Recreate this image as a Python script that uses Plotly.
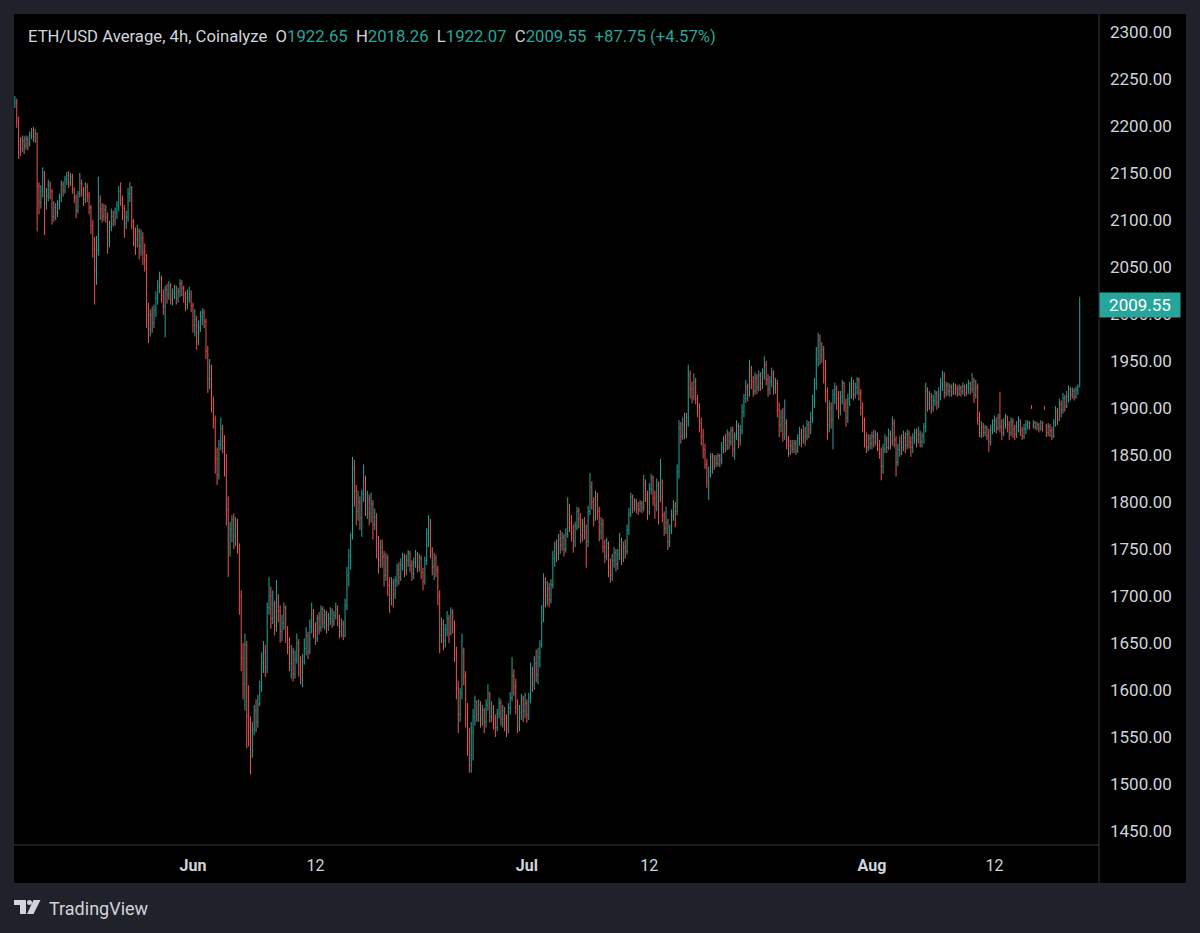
import pandas as pd
import plotly.graph_objects as go

# ETH/USD Average, 4h bars, 16 May -> 19 Aug (one row per day, 6 bars)
first_open = 2224
closes = [
    2226, 2205, 2180, 2176, 2184, 2179,  # May 16
    2186, 2181, 2190, 2194, 2188, 2192,
    2136, 2119, 2131, 2150, 2118, 2126,
    2137, 2130, 2104, 2113, 2108, 2116,
    2124, 2138, 2131, 2143, 2147, 2140,  # May 20
    2146, 2132, 2124, 2110, 2128, 2139,
    2131, 2122, 2135, 2126, 2113, 2094,
    2070, 2046, 2068, 2120, 2112, 2104,
    2111, 2103, 2077, 2093, 2104, 2100,
    2108, 2115, 2130, 2121, 2112, 2096,  # May 25
    2103, 2128, 2134, 2098, 2084, 2079,
    2088, 2072, 2081, 2066, 2058, 2006,
    1984, 1999, 1990, 2004, 2017, 2029,
    2038, 2020, 2008, 2026, 2021, 2030,
    2015, 2022, 2029, 2017, 2024, 2032,  # May 30
    2027, 2019, 2010, 2018, 2021, 2009,
    1988, 1994, 1971, 1986, 1997, 2001,  # Jun 1
    1992, 1960, 1931, 1944, 1904, 1888,
    1846, 1829, 1861, 1878, 1866, 1838,
    1792, 1752, 1771, 1781, 1764, 1775,
    1752, 1700, 1634, 1606, 1648, 1572,  # Jun 5
    1560, 1536, 1558, 1578, 1566, 1585,
    1604, 1628, 1640, 1624, 1688, 1700,
    1676, 1690, 1668, 1698, 1684, 1662,
    1671, 1688, 1660, 1645, 1628, 1640,
    1617, 1632, 1650, 1626, 1612, 1630,  # Jun 10
    1644, 1658, 1641, 1668, 1681, 1663,
    1655, 1676, 1666, 1686, 1672, 1680,
    1670, 1676, 1684, 1673, 1679, 1686,
    1675, 1662, 1670, 1658, 1690, 1722,
    1742, 1764, 1836, 1812, 1790, 1800,  # Jun 15
    1783, 1808, 1822, 1796, 1803, 1788,
    1798, 1776, 1784, 1756, 1738, 1752,
    1742, 1722, 1740, 1711, 1696, 1714,
    1702, 1716, 1728, 1720, 1733, 1741,
    1728, 1738, 1745, 1732, 1724, 1736,  # Jun 20
    1744, 1731, 1740, 1725, 1716, 1738,
    1766, 1778, 1748, 1731, 1740, 1728,
    1700, 1658, 1670, 1652, 1664, 1676,
    1660, 1682, 1668, 1640, 1602, 1574,
    1596, 1640, 1615, 1573, 1548, 1520,  # Jun 25
    1556, 1572, 1588, 1574, 1584, 1570,
    1578, 1566, 1584, 1596, 1572, 1580,
    1568, 1560, 1575, 1586, 1569, 1578,
    1570, 1558, 1581, 1592, 1615, 1604,
    1582, 1560, 1576, 1590, 1578, 1586,  # Jun 30
    1574, 1592, 1618, 1606, 1628, 1616,  # Jul 1
    1635, 1648, 1682, 1714, 1700, 1708,
    1696, 1712, 1740, 1752, 1745, 1760,
    1754, 1762, 1750, 1766, 1786, 1778,
    1768, 1758, 1774, 1790, 1782, 1764,  # Jul 5
    1776, 1768, 1758, 1790, 1816, 1800,
    1784, 1806, 1790, 1768, 1776, 1752,
    1742, 1756, 1730, 1722, 1738, 1746,
    1734, 1744, 1758, 1740, 1752, 1748,
    1770, 1788, 1806, 1794, 1800, 1796,  # Jul 10
    1792, 1798, 1794, 1820, 1808, 1790,
    1814, 1826, 1804, 1796, 1818, 1806,
    1820, 1786, 1772, 1778, 1758, 1770,
    1785, 1796, 1790, 1832, 1878, 1870,
    1882, 1872, 1890, 1936, 1920, 1912,  # Jul 15
    1928, 1910, 1898, 1884, 1870, 1856,
    1840, 1822, 1832, 1848, 1838, 1846,
    1841, 1849, 1844, 1858, 1866, 1860,
    1872, 1864, 1876, 1856, 1870, 1880,
    1866, 1876, 1896, 1910, 1922, 1914,  # Jul 20
    1940, 1928, 1918, 1932, 1922, 1934,
    1926, 1938, 1946, 1930, 1920, 1928,
    1936, 1922, 1926, 1898, 1882, 1890,
    1872, 1884, 1866, 1852, 1860, 1856,
    1862, 1854, 1868, 1874, 1868, 1876,  # Jul 25
    1870, 1882, 1878, 1890, 1906, 1926,
    1952, 1972, 1956, 1962, 1934, 1918,
    1882, 1900, 1888, 1914, 1920, 1910,
    1898, 1912, 1926, 1904, 1890, 1910,
    1918, 1926, 1914, 1922, 1930, 1916,  # Jul 30
    1900, 1884, 1866, 1858, 1868, 1862,
    1870, 1864, 1872, 1860, 1852, 1838,  # Aug 1
    1856, 1866, 1858, 1872, 1864, 1884,
    1866, 1842, 1856, 1864, 1858, 1868,
    1860, 1872, 1864, 1858, 1868, 1874,
    1866, 1872, 1864, 1870, 1880, 1918,  # Aug 5
    1904, 1912, 1900, 1908, 1916, 1906,
    1914, 1926, 1934, 1916, 1924, 1918,
    1922, 1917, 1924, 1920, 1915, 1921,
    1918, 1923, 1916, 1922, 1926, 1920,
    1928, 1914, 1922, 1890, 1874, 1880,  # Aug 10
    1874, 1879, 1870, 1864, 1876, 1882,
    1886, 1878, 1890, 1880, 1874, 1884,
    1890, 1882, 1874, 1886, 1878, 1872,
    1880, 1886, 1876, 1870, 1878, 1882,
    1884, 1880, 1900, 1884, 1879, 1882,  # Aug 15
    1878, 1884, 1880, 1899, 1874, 1880,
    1876, 1870, 1884, 1896, 1888, 1904,
    1898, 1910, 1902, 1912, 1920, 1914,
    1918, 1912, 1919, 1921.80, 2009.55,  # Aug 19
]
highs = [
    2232, 2229, 2210, 2188, 2190, 2189,
    2190, 2189, 2194, 2198, 2199, 2197,
    2193, 2140, 2137, 2156, 2152, 2134,
    2143, 2141, 2133, 2120, 2118, 2121,
    2128, 2142, 2141, 2147, 2151, 2152,
    2150, 2149, 2135, 2127, 2131, 2150,
    2143, 2135, 2140, 2139, 2130, 2116,
    2100, 2082, 2083, 2146, 2126, 2118,
    2117, 2116, 2108, 2099, 2112, 2110,
    2113, 2120, 2136, 2140, 2126, 2116,
    2110, 2134, 2140, 2136, 2101, 2092,
    2095, 2091, 2090, 2087, 2075, 2064,
    2012, 2005, 2008, 2010, 2024, 2036,
    2045, 2041, 2026, 2030, 2032, 2035,
    2033, 2027, 2031, 2030, 2028, 2037,
    2036, 2030, 2024, 2026, 2029, 2025,
    2012, 2005, 1998, 1993, 2003, 2006,
    2005, 1995, 1966, 1952, 1946, 1912,
    1892, 1858, 1866, 1890, 1882, 1871,
    1851, 1806, 1779, 1786, 1788, 1784,
    1782, 1756, 1706, 1650, 1660, 1652,
    1605, 1572, 1566, 1584, 1590, 1595,
    1610, 1640, 1652, 1648, 1693, 1720,
    1710, 1706, 1695, 1717, 1702, 1690,
    1680, 1693, 1690, 1668, 1656, 1648,
    1645, 1642, 1660, 1654, 1636, 1638,
    1655, 1667, 1662, 1675, 1693, 1686,
    1672, 1680, 1683, 1690, 1689, 1686,
    1684, 1682, 1688, 1687, 1684, 1693,
    1690, 1680, 1676, 1674, 1697, 1731,
    1750, 1767, 1848, 1845, 1818, 1812,
    1806, 1813, 1840, 1828, 1812, 1808,
    1810, 1802, 1793, 1788, 1764, 1760,
    1760, 1748, 1746, 1744, 1720, 1720,
    1718, 1721, 1734, 1736, 1740, 1746,
    1745, 1744, 1749, 1748, 1738, 1741,
    1749, 1747, 1745, 1743, 1730, 1742,
    1772, 1786, 1782, 1752, 1746, 1744,
    1732, 1706, 1677, 1675, 1670, 1684,
    1680, 1688, 1686, 1674, 1646, 1610,
    1602, 1660, 1645, 1620, 1586, 1560,
    1566, 1580, 1594, 1589, 1590, 1588,
    1584, 1581, 1590, 1606, 1598, 1588,
    1584, 1574, 1580, 1592, 1590, 1584,
    1582, 1574, 1586, 1598, 1635, 1622,
    1612, 1590, 1584, 1596, 1594, 1597,
    1590, 1597, 1629, 1625, 1636, 1643,
    1645, 1653, 1690, 1724, 1720, 1716,
    1714, 1718, 1748, 1758, 1760, 1766,
    1770, 1768, 1766, 1772, 1805, 1798,
    1786, 1776, 1779, 1795, 1794, 1788,
    1782, 1784, 1776, 1796, 1831, 1822,
    1805, 1812, 1810, 1795, 1784, 1782,
    1760, 1762, 1758, 1740, 1745, 1752,
    1750, 1750, 1767, 1762, 1758, 1760,
    1776, 1794, 1810, 1808, 1804, 1803,
    1800, 1802, 1801, 1829, 1824, 1812,
    1820, 1830, 1828, 1812, 1825, 1822,
    1846, 1824, 1790, 1795, 1782, 1776,
    1792, 1802, 1800, 1840, 1887, 1885,
    1890, 1895, 1895, 1946, 1940, 1928,
    1937, 1932, 1914, 1905, 1890, 1878,
    1862, 1846, 1838, 1852, 1852, 1850,
    1850, 1852, 1851, 1864, 1870, 1872,
    1877, 1875, 1880, 1880, 1874, 1887,
    1884, 1882, 1904, 1915, 1930, 1926,
    1951, 1945, 1934, 1938, 1936, 1940,
    1938, 1942, 1955, 1950, 1936, 1934,
    1943, 1940, 1932, 1930, 1906, 1898,
    1900, 1909, 1888, 1870, 1866, 1866,
    1866, 1866, 1872, 1880, 1878, 1882,
    1880, 1887, 1886, 1896, 1914, 1932,
    1965, 1980, 1978, 1970, 1966, 1951,
    1922, 1908, 1906, 1920, 1927, 1924,
    1918, 1918, 1930, 1928, 1910, 1915,
    1928, 1933, 1930, 1927, 1933, 1932,
    1920, 1906, 1890, 1874, 1872, 1872,
    1875, 1877, 1876, 1874, 1866, 1858,
    1862, 1872, 1870, 1878, 1876, 1891,
    1888, 1870, 1862, 1870, 1872, 1876,
    1874, 1877, 1876, 1870, 1873, 1878,
    1878, 1880, 1876, 1874, 1884, 1927,
    1922, 1918, 1916, 1914, 1919, 1918,
    1922, 1932, 1940, 1938, 1928, 1927,
    1926, 1925, 1927, 1926, 1924, 1925,
    1924, 1927, 1925, 1926, 1930, 1928,
    1937, 1932, 1930, 1926, 1896, 1886,
    1884, 1882, 1881, 1878, 1882, 1888,
    1892, 1890, 1894, 1917, 1888, 1889,
    1894, 1892, 1886, 1890, 1889, 1882,
    1886, 1891, 1888, 1880, 1883, 1887,
    1887, 1886, 1903, 1887, 1886, 1885,
    1884, 1887, 1886, 1902, 1883, 1884,
    1883, 1880, 1888, 1902, 1900, 1910,
    1908, 1916, 1914, 1918, 1924, 1922,
    1922, 1921, 1923, 1925, 2018.26,
]
lows = [
    2219, 2198, 2165, 2168, 2172, 2170,
    2175, 2174, 2178, 2186, 2183, 2182,
    2088, 2106, 2112, 2124, 2084, 2111,
    2120, 2122, 2095, 2098, 2100, 2103,
    2111, 2119, 2125, 2128, 2137, 2134,
    2136, 2128, 2118, 2102, 2107, 2124,
    2125, 2115, 2118, 2119, 2106, 2085,
    2060, 2010, 2031, 2062, 2100, 2097,
    2099, 2097, 2064, 2071, 2088, 2093,
    2094, 2101, 2109, 2115, 2100, 2081,
    2090, 2098, 2119, 2090, 2072, 2063,
    2071, 2058, 2062, 2052, 2045, 1985,
    1969, 1976, 1980, 1985, 1997, 2010,
    2022, 2012, 1999, 1975, 2011, 2015,
    2010, 2009, 2016, 2010, 2012, 2018,
    2019, 2012, 2003, 2005, 2012, 2002,
    1980, 1976, 1962, 1967, 1981, 1988,
    1985, 1952, 1916, 1920, 1895, 1878,
    1830, 1818, 1824, 1855, 1852, 1827,
    1775, 1720, 1742, 1757, 1750, 1753,
    1745, 1680, 1620, 1590, 1578, 1538,
    1540, 1510, 1528, 1552, 1555, 1560,
    1583, 1598, 1618, 1614, 1618, 1680,
    1665, 1670, 1658, 1662, 1672, 1650,
    1652, 1664, 1650, 1638, 1620, 1612,
    1609, 1612, 1628, 1614, 1606, 1603,
    1627, 1637, 1633, 1638, 1660, 1655,
    1648, 1651, 1659, 1662, 1666, 1664,
    1660, 1663, 1669, 1666, 1668, 1675,
    1668, 1655, 1656, 1653, 1656, 1685,
    1710, 1728, 1760, 1795, 1775, 1780,
    1770, 1763, 1800, 1785, 1782, 1775,
    1778, 1760, 1770, 1740, 1724, 1730,
    1730, 1710, 1716, 1700, 1682, 1690,
    1688, 1697, 1710, 1712, 1716, 1727,
    1720, 1722, 1731, 1725, 1716, 1718,
    1730, 1725, 1726, 1718, 1706, 1712,
    1733, 1752, 1740, 1722, 1717, 1720,
    1690, 1639, 1650, 1642, 1645, 1657,
    1650, 1658, 1660, 1630, 1590, 1554,
    1566, 1590, 1605, 1560, 1530, 1512,
    1512, 1525, 1562, 1566, 1566, 1560,
    1562, 1554, 1560, 1578, 1565, 1566,
    1558, 1550, 1556, 1570, 1562, 1560,
    1556, 1550, 1554, 1574, 1588, 1594,
    1574, 1554, 1556, 1568, 1566, 1570,
    1565, 1568, 1586, 1598, 1600, 1608,
    1606, 1624, 1645, 1672, 1688, 1690,
    1688, 1692, 1708, 1731, 1736, 1738,
    1745, 1748, 1742, 1746, 1762, 1768,
    1758, 1746, 1752, 1770, 1772, 1756,
    1758, 1760, 1730, 1752, 1786, 1792,
    1774, 1780, 1781, 1758, 1760, 1746,
    1735, 1738, 1720, 1714, 1716, 1730,
    1726, 1728, 1738, 1733, 1736, 1740,
    1744, 1765, 1784, 1788, 1790, 1788,
    1786, 1789, 1788, 1790, 1800, 1781,
    1786, 1808, 1796, 1782, 1790, 1776,
    1800, 1778, 1764, 1766, 1749, 1752,
    1766, 1780, 1773, 1786, 1825, 1862,
    1866, 1867, 1868, 1880, 1910, 1905,
    1908, 1904, 1890, 1874, 1860, 1846,
    1835, 1815, 1802, 1826, 1830, 1834,
    1837, 1838, 1837, 1840, 1852, 1853,
    1855, 1856, 1860, 1848, 1845, 1866,
    1857, 1860, 1872, 1890, 1905, 1907,
    1912, 1920, 1912, 1914, 1915, 1918,
    1918, 1920, 1930, 1924, 1912, 1914,
    1922, 1914, 1915, 1890, 1869, 1874,
    1864, 1866, 1856, 1848, 1850, 1852,
    1852, 1850, 1852, 1860, 1858, 1862,
    1860, 1866, 1868, 1872, 1884, 1900,
    1919, 1944, 1946, 1948, 1926, 1906,
    1866, 1874, 1878, 1856, 1904, 1898,
    1888, 1892, 1904, 1896, 1880, 1884,
    1902, 1910, 1908, 1910, 1914, 1908,
    1892, 1874, 1858, 1852, 1854, 1856,
    1856, 1858, 1860, 1854, 1846, 1823,
    1830, 1852, 1852, 1855, 1856, 1860,
    1858, 1827, 1838, 1848, 1850, 1854,
    1852, 1856, 1857, 1848, 1852, 1862,
    1858, 1862, 1858, 1858, 1862, 1874,
    1896, 1898, 1894, 1896, 1902, 1898,
    1900, 1908, 1918, 1910, 1912, 1913,
    1912, 1912, 1914, 1914, 1912, 1913,
    1912, 1914, 1912, 1913, 1915, 1914,
    1916, 1905, 1910, 1882, 1869, 1868,
    1869, 1870, 1866, 1853, 1860, 1872,
    1874, 1873, 1876, 1874, 1866, 1870,
    1878, 1874, 1866, 1870, 1868, 1866,
    1868, 1874, 1870, 1866, 1867, 1872,
    1877, 1877, 1899, 1878, 1877, 1876,
    1874, 1876, 1875, 1898, 1869, 1870,
    1869, 1866, 1868, 1880, 1882, 1886,
    1890, 1894, 1896, 1900, 1906, 1908,
    1910, 1908, 1910, 1914, 1922.07,
]
# bars whose open is not the previous close (the two stray prints and the last bar)
gap_opens = {548: 1901, 549: 1881, 555: 1900, 556: 1881, 574: 1922.65}

tick_dates = ["2023-06-01", "2023-06-12", "2023-07-01", "2023-07-12", "2023-08-01", "2023-08-12"]
tick_labels = ["<b>Jun</b>", "12", "<b>Jul</b>", "12", "<b>Aug</b>", "12"]
price_ticks = list(range(1450, 2301, 50))

UP = "#26a69a"
DOWN = "#ef5350"
TEXT = "#d1d4dc"
FRAME = "#1f222a"
SEP = "#363a45"

times = pd.date_range("2023-05-16", periods=len(closes), freq="4h")
opens = []
for i in range(len(closes)):
    if i in gap_opens:
        opens.append(gap_opens[i])
    elif i == 0:
        opens.append(first_open)
    else:
        opens.append(closes[i - 1])

fig = go.Figure(
    go.Ohlc(
        x=times,
        open=opens,
        high=highs,
        low=lows,
        close=closes,
        increasing=dict(line=dict(color=UP, width=1)),
        decreasing=dict(line=dict(color=DOWN, width=1)),
        tickwidth=0.3,
        hoverinfo="skip",
    )
)

# pixel -> paper helpers (plot area is x 14..1099, y 14..845)
def px(x):
    return (x - 14) / 1085


def py(y):
    return (845 - y) / 831


shapes = [
    # black chart panel incl. both axes
    dict(type="rect", xref="paper", yref="paper", x0=0, x1=px(1186), y0=py(883), y1=1,
         fillcolor="#000000", line=dict(width=0), layer="below"),
    dict(type="line", xref="paper", yref="paper", x0=1, x1=1, y0=py(883), y1=1,
         line=dict(color=SEP, width=1)),
    dict(type="line", xref="paper", yref="paper", x0=0, x1=1, y0=0, y1=0,
         line=dict(color=SEP, width=1)),
    # TradingView logo
    dict(type="path", xref="paper", yref="paper",
         path=f"M{px(14)},{py(900)} L{px(26)},{py(900)} L{px(26)},{py(914)} L{px(20)},{py(914)} "
              f"L{px(20)},{py(905)} L{px(14)},{py(905)} Z",
         fillcolor=TEXT, line=dict(width=0)),
    dict(type="circle", xref="paper", yref="paper", x0=px(27), x1=px(32), y0=py(905), y1=py(900),
         fillcolor=TEXT, line=dict(width=0)),
    dict(type="path", xref="paper", yref="paper",
         path=f"M{px(33.5)},{py(900)} L{px(40.5)},{py(900)} L{px(33.5)},{py(914)} L{px(27)},{py(914)} Z",
         fillcolor=TEXT, line=dict(width=0)),
]

teal = f"<span style='color:{UP}'>"
sp = "&nbsp;&nbsp;"
header = (
    "ETH/USD Average, 4h, Coinalyze" + sp
    + f"O{teal}1922.65</span>{sp}H{teal}2018.26</span>{sp}"
    + f"L{teal}1922.07</span>{sp}C{teal}2009.55</span>{sp}"
    + f"{teal}+87.75 (+4.57%)</span>"
)

annotations = [
    dict(text=header, xref="paper", yref="paper", x=px(26), y=py(37),
         xanchor="left", yanchor="middle", showarrow=False,
         font=dict(family="Roboto", size=16.7, color=TEXT)),
    dict(text="2009.55", xref="paper", yref="y", x=1, y=closes[-1],
         xanchor="left", yanchor="middle", showarrow=False,
         bgcolor=UP, width=76, height=20, borderpad=2,
         font=dict(family="Roboto", size=17, color="#ffffff")),
    dict(text="TradingView", xref="paper", yref="paper", x=px(47), y=py(908),
         xanchor="left", yanchor="middle", showarrow=False,
         font=dict(family="Roboto", size=18, color=TEXT)),
]

fig.update_layout(
    width=1200,
    height=933,
    margin=dict(l=14, r=101, t=14, b=88, pad=0),
    paper_bgcolor=FRAME,
    plot_bgcolor="#000000",
    showlegend=False,
    shapes=shapes,
    annotations=annotations,
    font=dict(family="Roboto", color=TEXT),
    xaxis=dict(
        type="date",
        range=["2023-05-15 22:05", "2023-08-21 09:36"],
        tickvals=tick_dates,
        ticktext=tick_labels,
        showgrid=False,
        zeroline=False,
        showline=False,
        ticks="",
        ticklabelstandoff=9,
        tickfont=dict(family="Roboto", size=16, color=TEXT),
        rangeslider=dict(visible=False),
        fixedrange=True,
    ),
    yaxis=dict(
        side="right",
        range=[1435.1, 2319.1],
        tickvals=price_ticks,
        tickformat=".2f",
        showgrid=False,
        zeroline=False,
        showline=False,
        ticks="",
        ticklabelstandoff=10,
        tickfont=dict(family="Roboto", size=17, color=TEXT),
        fixedrange=True,
    ),
)

# drop the browser's default 8px body margin so the figure sits at the page origin
page_fix = f"document.body.style.margin='0';document.body.style.background='{FRAME}';"
fig.write_html("out.html", post_script=page_fix, config={"displayModeBar": False})
